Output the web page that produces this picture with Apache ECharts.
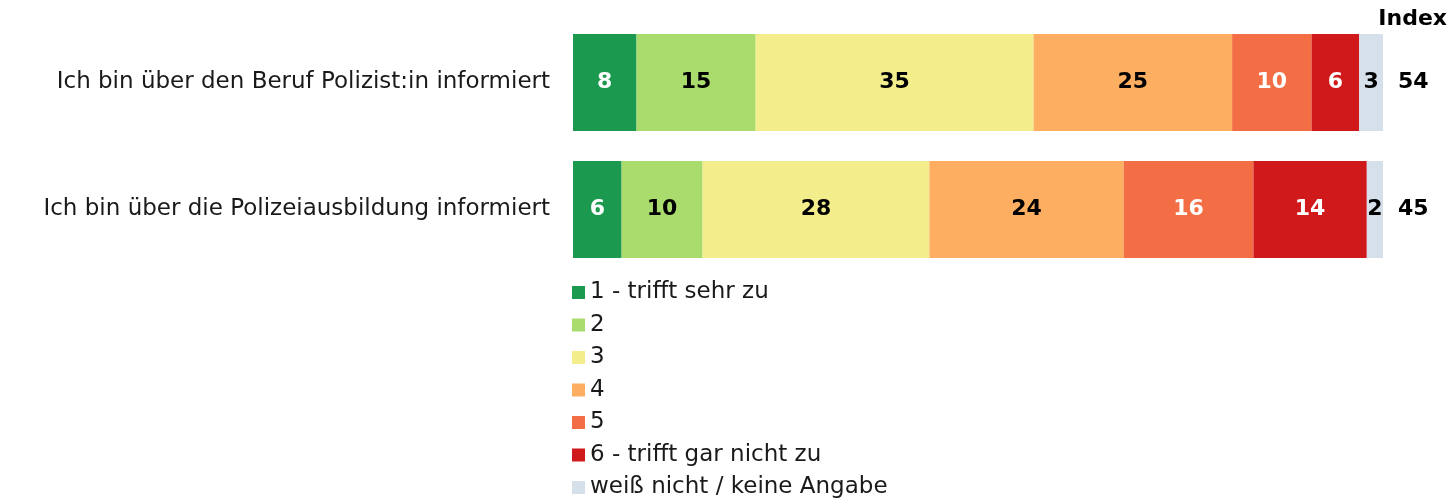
<!DOCTYPE html>
<html>
<head>
<meta charset="utf-8">
<script src="https://cdn.jsdelivr.net/npm/echarts@6/dist/echarts.min.js"></script>
<style>
  html, body { margin: 0; padding: 0; background: #fff; }
  #chart { width: 1452px; height: 501px; }
</style>
</head>
<body>
<div id="chart"></div>
<script>
var categories = ['Ich bin über den Beruf Polizist:in informiert', 'Ich bin über die Polizeiausbildung informiert'];
var seriesNames = ['1 - trifft sehr zu', '2', '3', '4', '5', '6 - trifft gar nicht zu', 'weiß nicht / keine Angabe'];
var s1 = [8, 6];
var s2 = [15, 10];
var s3 = [35, 28];
var s4 = [25, 24];
var s5 = [10, 16];
var s6 = [6, 14];
var s7 = [3, 2];
var indexValues = ['54', '45'];

var colors = ['#1b9a4f', '#a9db6d', '#f4ed8c', '#fdae61', '#f46e45', '#d0191b', '#d6e0ea'];
var labelColors = ['#fff', '#000', '#000', '#000', '#fff', '#fff', '#000'];
var font = 'DejaVu Sans';

var allSeries = [s1, s2, s3, s4, s5, s6, s7];
// each row is scaled to 100 so both bars have the same length
var rowSums = categories.map(function (c, i) {
  return allSeries.reduce(function (a, s) { return a + s[i]; }, 0);
});

var myChart = echarts.init(document.getElementById('chart'));
var option = {
  animation: false,
  color: colors,
  textStyle: { fontFamily: font },
  grid: { left: 573, right: 69, top: 19, bottom: 228 },
  xAxis: { type: 'value', min: 0, max: 100, show: false },
  yAxis: [
    {
      type: 'category',
      data: categories,
      inverse: true,
      axisLine: { show: false },
      axisTick: { show: false },
      axisLabel: { fontSize: 23, color: '#1a1a1a', margin: 23, fontFamily: font }
    },
    {
      type: 'category',
      data: indexValues,
      inverse: true,
      position: 'right',
      axisLine: { show: false },
      axisTick: { show: false },
      axisLabel: { fontSize: 22, fontWeight: 'bold', color: '#000', margin: 15, fontFamily: font }
    }
  ],
  graphic: [{
    type: 'text', right: 5, top: 8,
    style: { text: 'Index', fontSize: 22, fontWeight: 'bold', fill: '#000', fontFamily: font }
  }],
  legend: {
    orient: 'vertical',
    left: 572,
    top: 281,
    padding: 0,
    height: 220,
    itemWidth: 13,
    itemHeight: 13,
    itemGap: 9.5,
    icon: 'rect',
    textStyle: { fontSize: 23, lineHeight: 23, color: '#1a1a1a', fontFamily: font },
    data: seriesNames
  },
  series: allSeries.map(function (s, k) {
    return {
      name: seriesNames[k],
      type: 'bar',
      stack: 'total',
      barWidth: 97,
      data: s.map(function (v, i) {
        return { value: v / rowSums[i] * 100, raw: v };
      }),
      label: {
        show: true,
        position: 'inside',
        fontSize: 22,
        fontWeight: 'bold',
        color: labelColors[k],
        fontFamily: font,
        formatter: function (p) { return p.data.raw; }
      }
    };
  })
};
myChart.setOption(option, true);
</script>
</body>
</html>
